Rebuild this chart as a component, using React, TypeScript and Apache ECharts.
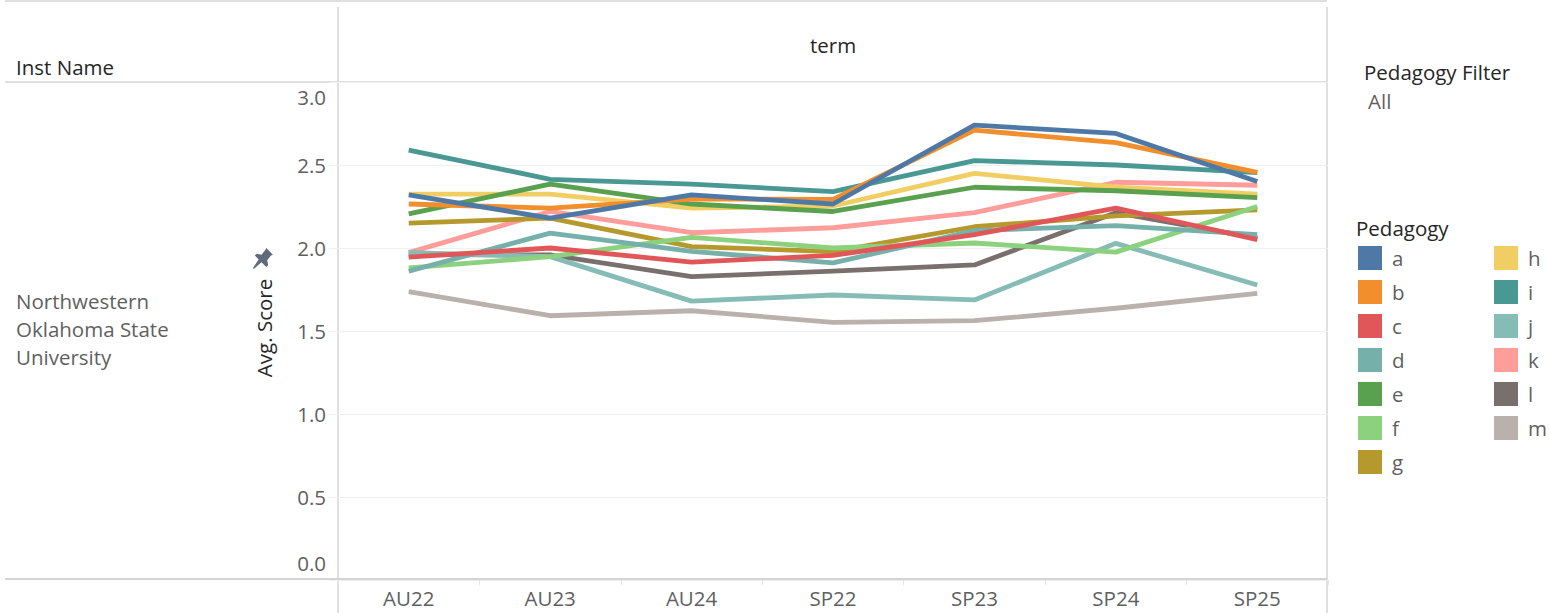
import React, { useEffect, useRef } from "react";
import * as echarts from "echarts";

const terms = ["AU22", "AU23", "AU24", "SP22", "SP23", "SP24", "SP25"];
const a = [2.32, 2.18, 2.32, 2.265, 2.74, 2.69, 2.4];
const b = [2.265, 2.24, 2.295, 2.293, 2.71, 2.635, 2.455];
const c = [1.945, 2.0, 1.915, 1.955, 2.08, 2.24, 2.05];
const d = [1.86, 2.09, 1.98, 1.91, 2.105, 2.135, 2.08];
const e = [2.205, 2.385, 2.265, 2.22, 2.366, 2.345, 2.303];
const f = [1.88, 1.948, 2.064, 2.0, 2.03, 1.975, 2.25];
const g = [2.15, 2.18, 2.008, 1.978, 2.128, 2.193, 2.23];
const h = [2.325, 2.325, 2.24, 2.253, 2.45, 2.366, 2.325];
const i = [2.59, 2.414, 2.385, 2.34, 2.526, 2.5, 2.454];
const j = [1.972, 1.948, 1.68, 1.717, 1.687, 2.028, 1.777];
const k = [1.972, 2.22, 2.092, 2.122, 2.213, 2.396, 2.378];
const l = [1.96, 1.958, 1.827, 1.861, 1.898, 2.213, 2.06];
const m = [1.737, 1.592, 1.622, 1.552, 1.562, 1.637, 1.727];

const names = ["a", "b", "c", "d", "e", "f", "g", "h", "i", "j", "k", "l", "m"];
const values = [a, b, c, d, e, f, g, h, i, j, k, l, m];
const colors = ["#4e79a7", "#f28e2b", "#e15759", "#76b0aa", "#59a14f", "#8cd17d", "#b6992d", "#f1ce63", "#499894", "#86bcb6", "#ff9d9a", "#79706e", "#bab0ac"];

const FONT = "'Open Sans', 'Noto Sans', sans-serif";
const SIZE = 20.5;
const DARK = "#262626";
const MID = "#5f5f5f";
const RULE = "#d4d4d4";
const FAINT = "#f0f0f0";

echarts.graphic.registerShape(
  "pin",
  echarts.graphic.extendPath("M15 0 L22 7 L20 8 L16 13 L17 18 L15 20 L10 15 L2 22 L1 21 L7 12 L3 8 L5 6 L10 7 L14 2 Z", {}) as any
);

const label = (text: string, x: number, y: number, fill: string) => ({
  type: "text",
  x,
  y,
  style: { text, fontSize: SIZE, fill, fontFamily: FONT, verticalAlign: "middle" },
  silent: true,
});
const rule = (x1: number, y1: number, x2: number, y2: number, lineWidth = 1.5) => ({
  type: "line",
  shape: { x1, y1, x2, y2 },
  style: { stroke: RULE, lineWidth },
  silent: true,
});

export default function App() {
  const ref = useRef<HTMLDivElement>(null);
  useEffect(() => {
    const chart = echarts.init(ref.current!, null, { renderer: "svg" });
    const legendBase = {
      orient: "vertical",
      top: 246,
      padding: 0,
      itemWidth: 24,
      itemHeight: 24,
      itemGap: 10,
      icon: "rect",
      selectedMode: false,
      textStyle: { fontSize: SIZE, color: MID, fontFamily: FONT, padding: [0, 0, 0, 5] },
    };
    const tickRich = { fontSize: SIZE, color: MID, fontFamily: FONT };
    chart.setOption({
      animation: false,
      backgroundColor: "#ffffff",
      grid: { left: 338, top: 82, width: 990, height: 498 },
      legend: [
        { ...legendBase, left: 1358, data: names.slice(0, 7) },
        { ...legendBase, left: 1494, data: names.slice(7) },
      ],
      xAxis: {
        type: "category",
        data: terms,
        boundaryGap: true,
        axisLine: { show: false },
        axisTick: { show: true, length: 5, lineStyle: { color: "#e6e6e6" } },
        axisLabel: { color: MID, fontSize: SIZE, fontFamily: FONT, margin: 7 },
      },
      yAxis: {
        type: "value",
        min: 0,
        max: 3,
        interval: 0.5,
        name: "Avg. Score",
        nameLocation: "middle",
        nameGap: 64,
        nameRotate: 90,
        nameTextStyle: { color: DARK, fontSize: SIZE, fontFamily: FONT, padding: [0, 0, 0, 6] },
        axisLine: { show: false },
        axisTick: { show: true, length: 9, lineStyle: { color: FAINT } },
        splitLine: { show: true, lineStyle: { color: FAINT } },
        axisLabel: {
          color: MID,
          fontSize: SIZE,
          fontFamily: FONT,
          margin: 12,
          formatter: (v: number) => (v === 3 ? `{top|${v.toFixed(1)}}` : v === 0 ? `{bot|${v.toFixed(1)}}` : v.toFixed(1)),
          rich: {
            top: { ...tickRich, padding: [4, 0, 0, 0] },
            bot: { ...tickRich, padding: [0, 0, 7, 0] },
          },
          verticalAlignMaxLabel: "top",
          verticalAlignMinLabel: "bottom",
        },
      },
      series: names.map((name, n) => ({
        name,
        type: "line",
        data: values[n],
        symbol: "none",
        z: 20 - n,
        itemStyle: { color: colors[n] },
        lineStyle: { color: colors[n], width: 4.8, join: "round" },
      })),
      graphic: [
        rule(5, 1, 1327, 1),
        rule(5, 82, 1327, 82),
        rule(5, 579, 1327, 579, 2),
        rule(338, 7, 338, 613),
        rule(1327, 7, 1327, 613),
        label("Inst Name", 16, 67, DARK),
        label("term", 810, 45, DARK),
        label("Northwestern", 16, 301, MID),
        label("Oklahoma State", 16, 329, MID),
        label("University", 16, 357, MID),
        label("Pedagogy Filter", 1364, 72, DARK),
        label("All", 1368, 101, MID),
        label("Pedagogy", 1356, 228, DARK),
        { type: "pin", x: 252, y: 248, scaleX: 0.95, scaleY: 0.95, style: { fill: "#5f6b7a" }, silent: true },
      ],
    });
    return () => chart.dispose();
  }, []);
  return <div ref={ref} style={{ position: "absolute", left: 0, top: 0, width: 1550, height: 613 }} />;
}
